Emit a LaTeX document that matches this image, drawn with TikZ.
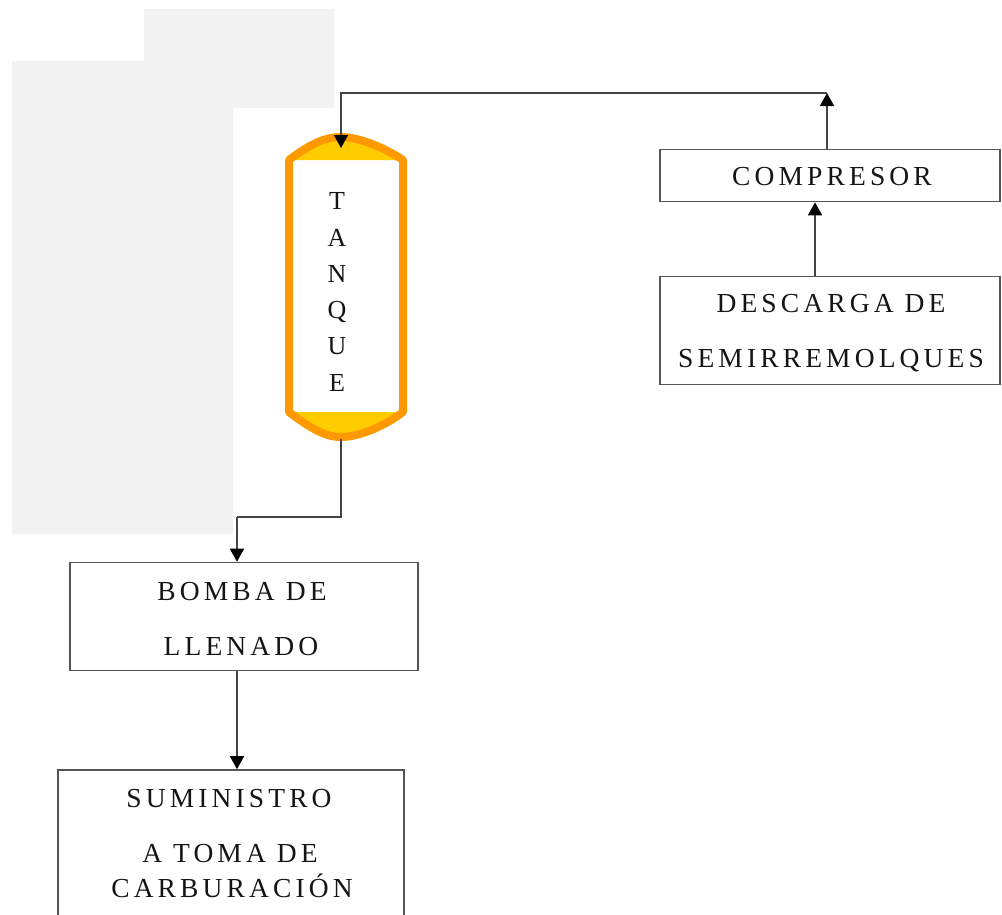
\documentclass[tikz,border=0pt]{standalone}
\usepackage{fontspec}
\setmainfont{Liberation Serif}
\newfontfamily\lsfont{Liberation Serif}[LetterSpace=15]
\usetikzlibrary{arrows.meta,calc}
\definecolor{bggrey}{HTML}{F2F2F2}
\definecolor{tankorange}{HTML}{FF9900}
\definecolor{tankyellow}{HTML}{FFCC00}
\definecolor{linegrey}{HTML}{444444}
\definecolor{boxgrey}{HTML}{555555}
\definecolor{txt}{HTML}{151515}
\tikzset{
  box/.style={draw=boxgrey, line width=1.6pt, rectangle, inner sep=0pt},
  lbl/.style={anchor=base, inner sep=0pt, text=txt, font=\lsfont\fontsize{27.5}{30}\selectfont},
  tlbl/.style={anchor=base, inner sep=0pt, text=txt, font=\fontsize{26}{28}\selectfont},
  conn/.style={draw=linegrey, line width=1.5pt},
  arr/.style={conn, -{Triangle[width=14pt,length=13pt,color=black]}},
}
\begin{document}
\begin{tikzpicture}[x=1pt,y=-1pt]
\useasboundingbox (0,0) rectangle (1002,914);
\clip (0,0) rectangle (1002,914);
\fill[white] (0,0) rectangle (1002,914);
% grey background shape
\fill[bggrey] (12,61) -- (144,61) -- (144,9) -- (334,9) -- (334,108) -- (233,108) -- (233,534) -- (12,534) -- cycle;

% tank
\fill[white] (289,160) rectangle (403,412);
\fill[tankyellow] (289,160) .. controls (310,144) and (325,137) .. (341,137) .. controls (357,137) and (382,146) .. (403,160) -- cycle;
\fill[tankyellow] (289,412) .. controls (310,428) and (325,437) .. (341,437) .. controls (357,437) and (382,428) .. (403,412) -- cycle;
\draw[tankorange, line width=8pt, line join=round]
  (341,137) .. controls (357,137) and (382,146) .. (403,160) -- (403,412)
  .. controls (382,428) and (357,437) .. (341,437) .. controls (325,437) and (310,428) .. (289,412)
  -- (289,160) .. controls (310,144) and (325,137) .. (341,137);
\coordinate (tanktop) at (341,148);
\coordinate (tankbot) at (341,439);
\foreach \l/\y [count=\i] in {T/200,A/237,N/273,Q/309,U/345,E/382}
  \node[tlbl] (tq\i) at (337,\y+9) {\l};

% boxes
\node[box, minimum width=340pt, minimum height=52pt] (comp) at (830,175.5) {};
\node[lbl] (compt) at (832,185) {COMPRESOR};
\node[box, minimum width=340pt, minimum height=108pt] (desc) at (830,330.5) {};
\node[lbl] (desct1) at (831,312) {DESCARGA DE};
\node[lbl] (desct2) at (831,367) {SEMIRREMOLQUES};
\node[box, minimum width=348pt, minimum height=108pt] (bomba) at (244,616.5) {};
\node[lbl] (bombat1) at (242,600) {BOMBA DE};
\node[lbl] (bombat2) at (241,655) {LLENADO};
\node[box, minimum width=346pt, minimum height=170pt] (sum) at (231,855) {};
\node[lbl] (sumt1) at (229,807) {SUMINISTRO};
\node[lbl] (sumt2) at (230,862) {A TOMA DE};
\node[lbl] (sumt3) at (232,897) {CARBURACIÓN};

% connectors
\coordinate (jtop) at (827,93);
\coordinate (jbot) at (237,517);
\draw[arr] ([xshift=-3pt]comp.north) -- (jtop);
\draw[arr] (jtop) -- (341,93) -- (tanktop);
\draw[arr] ([xshift=-15pt]desc.north) -- ([xshift=-15pt]comp.south);
\draw[conn] (tankbot) -- (341,517) -- (jbot);
\draw[arr] (jbot) -- (jbot |- bomba.north);
\draw[arr] (jbot |- bomba.south) -- (jbot |- sum.north);
\end{tikzpicture}
\end{document}
